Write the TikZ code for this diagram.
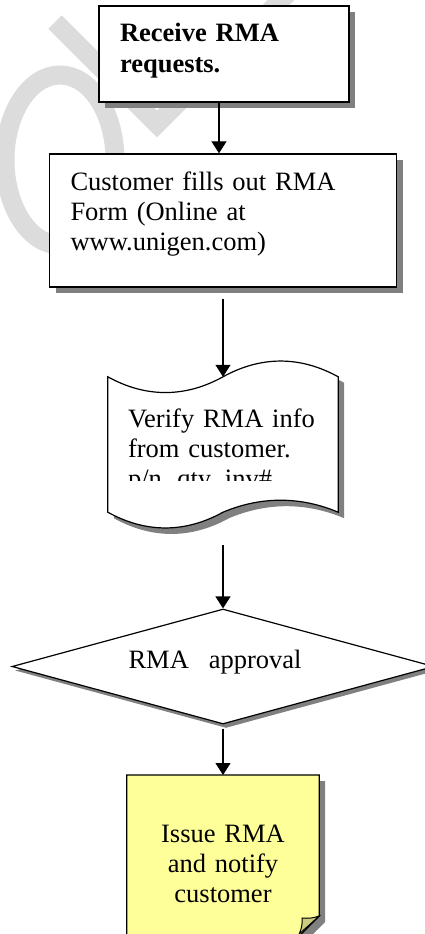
\documentclass[tikz,border=0pt]{standalone}
\usepackage{fontspec}
\setmainfont{Liberation Serif}
\usetikzlibrary{positioning, arrows.meta, shapes.geometric, calc, backgrounds, shadows}
\definecolor{stickyfill}{HTML}{FFFF99}
\definecolor{stickyfold}{HTML}{CCCC80}
\definecolor{markgray}{HTML}{DCDCDC}
\newcommand{\flowfont}{\fontsize{26.5}{30}\selectfont}

\begin{document}
\begin{tikzpicture}[
        x=1pt, y=-1pt,
        shadowed/.style={drop shadow={shadow xshift=6pt, shadow yshift=-6pt,
                         fill=black!50, opacity=1}},
        box/.style={rectangle, draw, line width=1.4pt, fill=white, shadowed,
                    inner xsep=21pt, inner ysep=0pt, align=left, font=\flowfont},
        decision/.style={diamond, draw, line width=1.2pt, fill=white, aspect=3.67,
                    drop shadow={shadow xshift=3pt, shadow yshift=-4pt, fill=black!50, opacity=1},
                    inner sep=0pt, minimum width=422pt, minimum height=115pt, font=\flowfont},
        arrow/.style={-{Triangle[length=12pt, width=15pt]}, line width=1.2pt},
        wmark/.style={markgray, line width=19pt},
    ]
    \useasboundingbox (0,0) rectangle (425,934);

    % faint watermark behind everything
    \begin{scope}[on background layer]
        \draw[wmark] (55,22) -- (157,124) -- (290,-9);
        \draw[wmark] (60,160) ellipse [x radius=55, y radius=85];
    \end{scope}

    % boxes down the page
    \node[box, font=\flowfont\bfseries, text width=208pt, text height=36pt, text depth=60pt]
        (receive) at (224,54) {Receive RMA\\requests.};
    \node[box, text width=305pt, text height=36pt, text depth=97pt]
        (fillForm) at (223,220.5) {Customer fills out RMA\\Form (Online at\\www.unigen.com)};
    \draw[arrow] ([xshift=-5pt]receive.south) -- ([xshift=-4pt]fillForm.north);

    % document shape, text cut off at the bottom as in the original
    \begin{scope}
        \clip (100,360) rectangle (350,480);
        \node[inner xsep=20pt, inner ysep=0pt, text width=190pt, align=left,
              text height=50pt, text depth=85pt, font=\flowfont]
            (verify) at (223,444.5) {Verify RMA info\\from customer.\\p/n, qty, inv\#};
    \end{scope}
    \begin{scope}[on background layer]
        \draw[shadowed, line width=1.2pt, fill=white]
            (verify.north west) .. controls +(38,21) and +(-38,21) .. (verify.north)
            .. controls +(38,-21) and +(-38,-21) .. (verify.north east)
            -- (verify.south east)
            .. controls +(-38,-16) and +(38,-16) .. (verify.south)
            .. controls +(-38,21) and +(38,21) .. (verify.south west) -- cycle;
    \end{scope}
    \draw[arrow] ([yshift=-11pt]fillForm.south) -- (verify.north);

    \node[decision, text height=18pt, text depth=15pt]
        (approval) at (223,666.5) {RMA\ \ \ approval\kern16pt};
    \draw[arrow] ([yshift=-33pt]verify.south) -- (approval.north);

    % sticky note with folded corner
    \node[font=\flowfont, align=center, text width=192pt, inner sep=0pt,
          text height=67pt, text depth=95pt, anchor=north]
        (notify) at (223,775) {Issue RMA\\and notify\\customer};
    \begin{scope}[on background layer]
        \draw[shadowed, line width=1.2pt, fill=stickyfill]
            (notify.north west) -- (notify.north east) -- ++(0,141) -- ++(-21,21)
            -- (notify.south west) -- cycle;
        \draw[line width=1pt, fill=stickyfold]
            ($(notify.north east)+(0,141)$) to[bend left=12] ($(notify.north east)+(-17,143)$)
            to[bend left=12] ($(notify.north east)+(-20,159)$) -- cycle;
    \end{scope}
    \draw[arrow] ([yshift=-4pt]approval.south) -- (notify.north);
\end{tikzpicture}
\end{document}
